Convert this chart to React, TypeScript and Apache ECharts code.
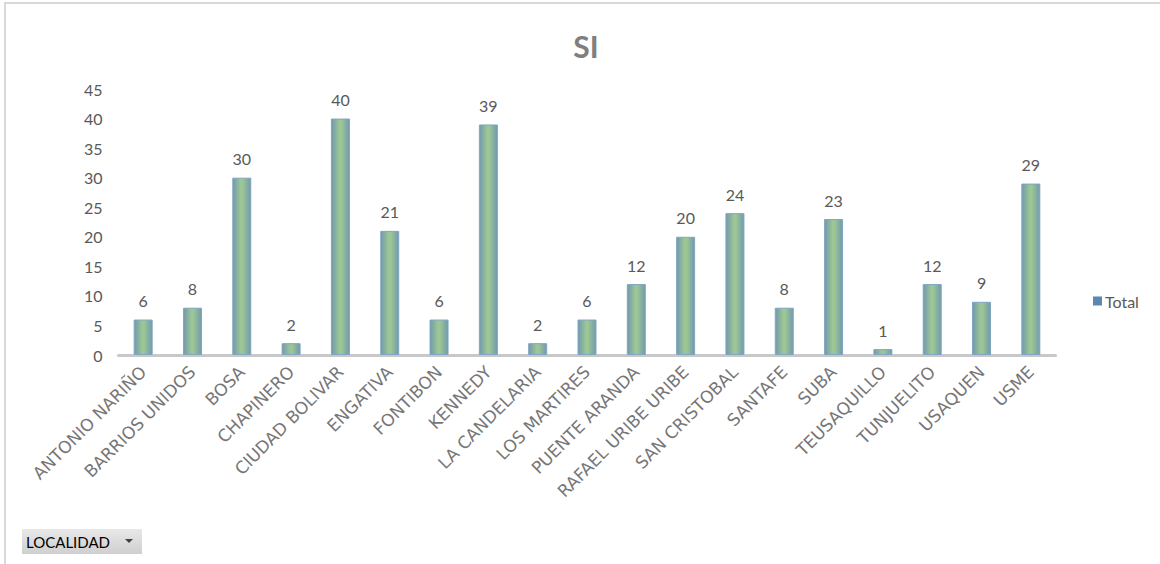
import React, { useEffect, useRef } from "react";
import * as echarts from "echarts";

const categories = [
  "ANTONIO NARIÑO",
  "BARRIOS UNIDOS",
  "BOSA",
  "CHAPINERO",
  "CIUDAD BOLIVAR",
  "ENGATIVA",
  "FONTIBON",
  "KENNEDY",
  "LA CANDELARIA",
  "LOS MARTIRES",
  "PUENTE ARANDA",
  "RAFAEL URIBE URIBE",
  "SAN CRISTOBAL",
  "SANTAFE",
  "SUBA",
  "TEUSAQUILLO",
  "TUNJUELITO",
  "USAQUEN",
  "USME",
];
const totals = [6, 8, 30, 2, 40, 21, 6, 39, 2, 6, 12, 20, 24, 8, 23, 1, 12, 9, 29];
const seriesName = "Total";
const chartTitle = "SI";
const filterLabel = "LOCALIDAD";

const FONT = "Lato, sans-serif";
const WIDE = "DejaVu Sans";

export default function App() {
  const ref = useRef<HTMLDivElement>(null);
  useEffect(() => {
    document.body.style.margin = "0";
    const chart = echarts.init(ref.current!, null, { renderer: "svg" });
    chart.setOption({
      animation: false,
      backgroundColor: "#ffffff",
      title: {
        text: chartTitle,
        left: 581,
        textAlign: "center",
        top: 26,
        textStyle: { fontFamily: FONT, fontSize: 30, fontWeight: "bold", color: "#7f7f7f" },
      },
      legend: {
        data: [{ name: seriesName, itemStyle: { color: "#5b87b0", borderWidth: 0 } }],
        left: 1088,
        top: 288,
        itemWidth: 9,
        itemHeight: 9,
        icon: "rect",
        itemGap: 6,
        textStyle: { fontFamily: FONT, fontSize: 16, color: "#595959", padding: [0, 0, 0, -2] },
      },
      grid: { left: 118.5, right: 104.5, top: 89, bottom: 209, containLabel: false },
      xAxis: {
        type: "category",
        data: categories,
        axisLine: { show: true, lineStyle: { color: "#c8c8c8", width: 3 } },
        axisTick: { show: false },
        axisLabel: {
          rotate: 45,
          interval: 0,
          margin: 14,
          fontFamily: WIDE,
          fontSize: 17,
          color: "#767676",
        },
      },
      yAxis: {
        type: "value",
        min: 0,
        max: 45,
        interval: 5,
        splitLine: { show: false },
        axisLine: { show: false },
        axisTick: { show: false },
        axisLabel: { margin: 16, fontFamily: FONT, fontSize: 16, color: "#595959" },
      },
      series: [
        {
          name: seriesName,
          type: "bar",
          data: totals,
          barWidth: 19,
          itemStyle: {
            color: new echarts.graphic.LinearGradient(0, 0, 1, 0, [
              { offset: 0, color: "#7299ad" },
              { offset: 0.45, color: "#9cc794" },
              { offset: 0.55, color: "#9cc794" },
              { offset: 1, color: "#7299ad" },
            ]),
            borderColor: "#7fa6c4",
            borderWidth: 1,
          },
          label: {
            show: true,
            position: "top",
            distance: 11,
            fontFamily: FONT,
            fontSize: 16,
            color: "#595959",
          },
        },
      ],
      graphic: [
        {
          type: "line",
          shape: { x1: 4, y1: 3, x2: 1160, y2: 3 },
          style: { stroke: "#d9d9d9", lineWidth: 2 },
          silent: true,
        },
        {
          type: "line",
          shape: { x1: 5, y1: 2, x2: 5, y2: 564 },
          style: { stroke: "#d9d9d9", lineWidth: 2 },
          silent: true,
        },
        {
          type: "rect",
          shape: { x: 22, y: 529, width: 120, height: 25 },
          style: {
            fill: new echarts.graphic.LinearGradient(0, 0, 0, 1, [
              { offset: 0, color: "#e8e8e8" },
              { offset: 1, color: "#cfcfcf" },
            ]),
          },
          silent: true,
        },
        {
          type: "text",
          x: 26,
          y: 541.5,
          style: {
            text: filterLabel,
            fontFamily: FONT,
            fontSize: 15,
            fill: "#000000",
            verticalAlign: "middle",
          },
          silent: true,
        },
        {
          type: "polygon",
          shape: { points: [[125, 539], [133, 539], [129, 543]] },
          style: { fill: "#404040" },
          silent: true,
        },
      ],
    });
    return () => chart.dispose();
  }, []);
  return <div ref={ref} style={{ width: 1160, height: 564 }} />;
}
